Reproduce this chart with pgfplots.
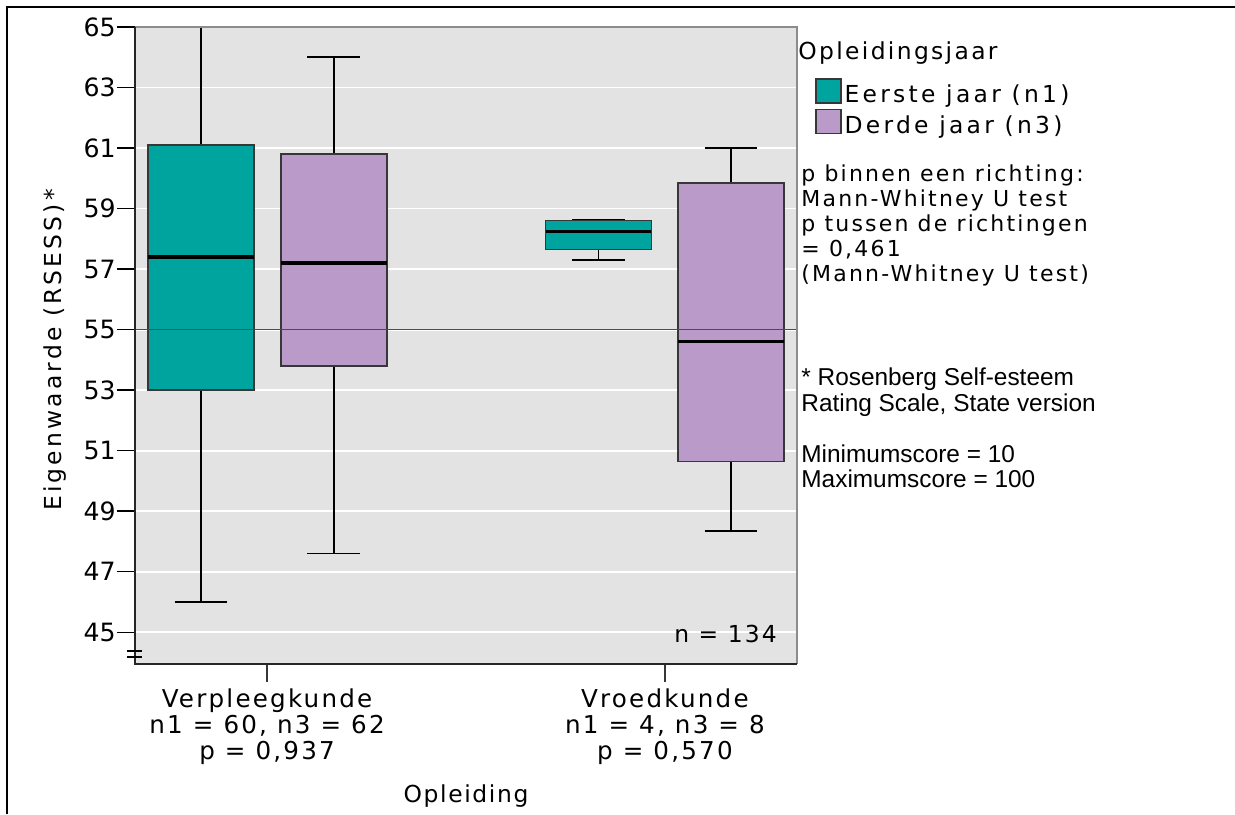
\documentclass[border=0pt]{standalone}
\usepackage{pgfplots}
\pgfplotsset{compat=1.18}
\usepgfplotslibrary{statistics}
\usepackage{fontspec}
\setmainfont{DejaVu Sans}
\newfontfamily\arialfont{Liberation Sans}
\newcommand\track[1]{\addfontfeature{LetterSpace=#1}}

\definecolor{firstyr}{RGB}{0,164,159}
\definecolor{thirdyr}{RGB}{185,154,201}
\definecolor{panel}{RGB}{227,227,227}
\definecolor{boxline}{RGB}{55,55,55}

\pgfplotsset{sq legend/.style={legend image code/.code={%
  \draw[##1] (0pt,-3.5pt) rectangle (12.5pt,8.5pt);}}}

\begin{document}
\begin{tikzpicture}
\useasboundingbox (0,0) rectangle (617.5pt,407pt);
% page frame
\draw[black, line width=0.9pt] (3.5pt,0) -- (3.5pt,403.5pt) -- (617.5pt,403.5pt);

\begin{axis}[
  at={(67.5pt,75pt)}, anchor=south west,
  scale only axis, width=331pt, height=318.5pt,
  xmin=0.668, xmax=2.332, ymin=43.95, ymax=65,
  clip=false,
  axis background/.style={fill=panel},
  axis line style={draw=none},
  xtick={1,2},
  xticklabels={{Verpleegkunde\\n1 = 60, n3 = 62\\p = 0,937},
               {Vroedkunde\\n1 = 4, n3 = 8\\p = 0,570}},
  ytick={45,47,...,65},
  tick align=outside, tick pos=left,
  major tick length=9pt,
  x tick style={boxline, line width=0.8pt},
  y tick style={black, line width=0.7pt},
  ymajorgrids, grid style={white, line width=0.9pt},
  /pgf/number format/assume math mode=true,
  yticklabel style={font=\fontsize{12.6}{14}\selectfont, inner sep=0.5pt},
  xticklabel style={align=center, anchor=north, inner sep=0pt, yshift=-3pt,
    font=\fontsize{12.3}{13}\selectfont\track{9}},
  xlabel={Opleiding},
  every axis x label/.style={at={(axis description cs:0.5,-0.2182)}, anchor=base,
    font=\fontsize{11.7}{14}\selectfont\track{7}},
  ylabel={Eigenwaarde (RSESS)*},
  every axis y label/.style={at={(axis description cs:-0.1103,0.493)}, rotate=90,
    anchor=base, font=\fontsize{11.7}{14}\selectfont\track{13.5}},
  boxplot/draw direction=y,
  boxplot/box extend=0.266,
  boxplot/whisker extend=0.133,
  boxplot/every box/.style={draw=boxline, line width=0.7pt},
  boxplot/every median/.style={draw=black, line width=1.6pt},
  boxplot/every whisker/.style={draw=black, line width=0.8pt},
  legend cell align=left,
  legend style={at={(axis description cs:1.0272,0.9199)}, anchor=north west,
    draw=none, fill=none, inner sep=0pt, row sep=1pt, column sep=1.5pt,
    nodes={inner sep=0pt, text depth=2pt},
    font=\fontsize{11.7}{14}\selectfont\track{14}},
]
% legend swatches for the two study years
\addlegendimage{sq legend, fill=firstyr, draw=boxline, line width=0.6pt}
\addlegendentry{Eerste jaar (n1)}
\addlegendimage{sq legend, fill=thirdyr, draw=boxline, line width=0.6pt}
\addlegendentry{Derde jaar (n3)}

% Verpleegkunde
\addplot[fill=firstyr, draw=boxline,
  boxplot prepared={draw position=0.834, lower whisker=46, lower quartile=53.0,
    median=57.4, upper quartile=61.1, upper whisker=65}] coordinates {};
\addplot[fill=thirdyr, draw=boxline,
  boxplot prepared={draw position=1.168, lower whisker=47.6, lower quartile=53.8,
    median=57.2, upper quartile=60.8, upper whisker=64}] coordinates {};
% Vroedkunde
\addplot[fill=firstyr, draw=boxline,
  boxplot prepared={draw position=1.833, lower whisker=57.3, lower quartile=57.65,
    median=58.25, upper quartile=58.6, upper whisker=58.62}] coordinates {};
\addplot[fill=thirdyr, draw=boxline,
  boxplot prepared={draw position=2.166, lower whisker=48.35, lower quartile=50.65,
    median=54.6, upper quartile=59.85, upper whisker=61}] coordinates {};
% reference line
\addplot[black!70, line width=0.7pt] coordinates {(0.668,55) (2.332,55)};

% frame of the plotting area
\draw[black!45, line width=1pt] (rel axis cs:0,1) -- (rel axis cs:1,1) -- (rel axis cs:1,0);
\draw[black!85, line width=0.9pt] (rel axis cs:0,1) -- (rel axis cs:0,0) -- (rel axis cs:1,0);
% axis break
\draw[black, line width=0.7pt] ([xshift=-4pt,yshift=3.5pt]rel axis cs:0,0) -- ([xshift=3.5pt,yshift=3.5pt]rel axis cs:0,0);
\draw[black, line width=0.7pt] ([xshift=-4pt,yshift=6.5pt]rel axis cs:0,0) -- ([xshift=3.5pt,yshift=6.5pt]rel axis cs:0,0);
\node[anchor=base east, inner sep=0pt, font=\fontsize{11.7}{14}\selectfont\track{9}]
  at (axis description cs:0.97,0.0345) {n = 134};
\end{axis}

\node[anchor=base west, inner sep=0pt, font=\fontsize{11.7}{14}\selectfont\track{10}]
  at (399pt,377pt) {Opleidingsjaar};
\node[anchor=base west, align=left, inner sep=0pt,
  font=\fontsize{11}{12.5}\selectfont\track{10}]
  at (400.5pt,266pt) {p binnen een richting:\\Mann-Whitney U test\\p tussen de richtingen\\= 0,461\\(Mann-Whitney U test)};
\node[anchor=base west, align=left, inner sep=0pt,
  font=\arialfont\fontsize{12.2}{12.75}\selectfont]
  at (400.5pt,163pt) {* Rosenberg Self-esteem\\Rating Scale, State version\\[12.75pt]Minimumscore = 10\\Maximumscore = 100};
\end{tikzpicture}
\end{document}
